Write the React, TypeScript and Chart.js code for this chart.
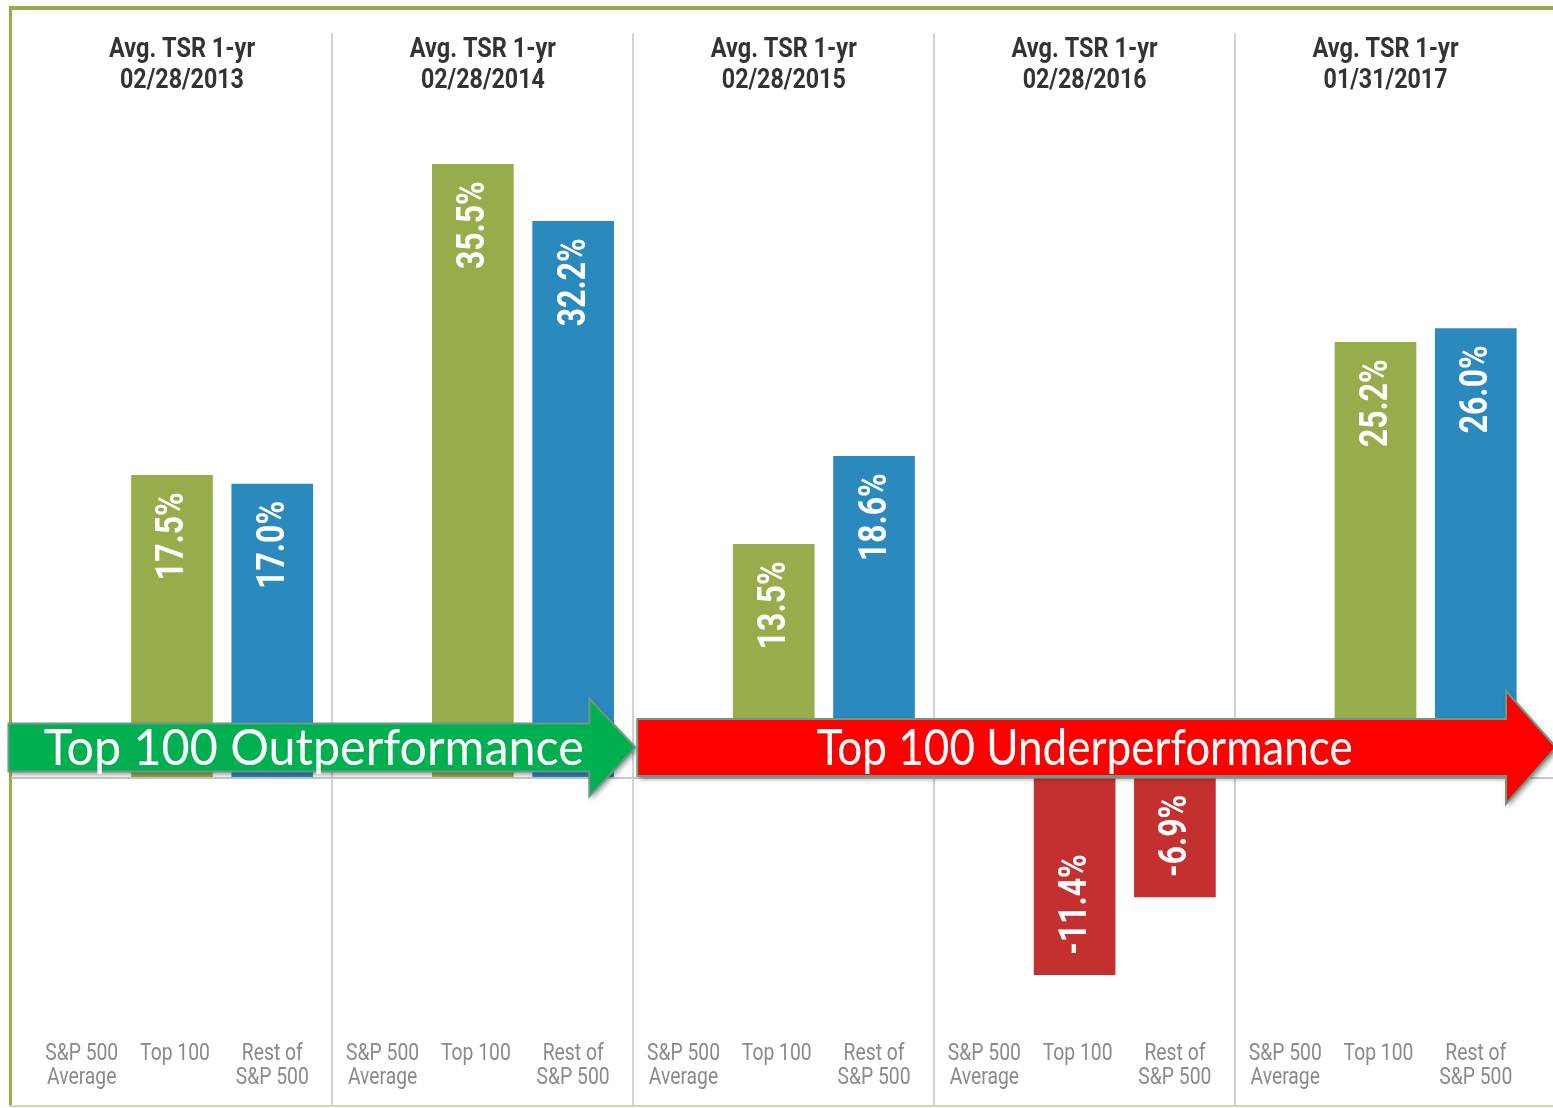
import { useEffect, useRef } from 'react';
import { Chart, registerables } from 'chart.js';

Chart.register(...registerables);

// ---------- data ----------
const periods = ['02/28/2013', '02/28/2014', '02/28/2015', '02/28/2016', '01/31/2017'];
const headerTitle = 'Avg. TSR 1-yr';
const categories: string[][] = [['S&P 500', 'Average'], ['Top 100'], ['Rest of', 'S&P 500']];
const sp500Average: (number | null)[] = [null, null, null, null, null];
const top100: number[] = [17.5, 35.5, 13.5, -11.4, 25.2];
const restOfSP500: number[] = [17.0, 32.2, 18.6, -6.9, 26.0];
const arrowLabels = ['Top 100 Outperformance', 'Top 100 Underperformance'];

// ---------- style ----------
const W = 1553;
const H = 1108;
const GREEN = '#97AD4B';
const BLUE = '#2A8ABD';
const RED = '#C4302F';
const PER = categories.length;
const labelNudge = [0.1, 0.03, 0];

const toPoints = (vals: (number | null)[], k: number) =>
  vals.map((v, p) => ({ x: p * PER + k, y: v }));

const separators = periods.slice(1).map((_, i) => (i + 1) * PER - 0.4);

const arrows = [
  { label: arrowLabels[0], from: -0.63, to: 5.62, fill: '#00B050', bodyHalf: 24, headHalf: 49, headLen: 46, textWidth: 540 },
  { label: arrowLabels[1], from: 5.64, to: 14.8, fill: '#FF0000', bodyHalf: 28.5, headHalf: 56.5, headLen: 50, textWidth: 536 },
];

function condensedText(ctx: CanvasRenderingContext2D, text: string, x: number, y: number, sx: number) {
  ctx.save();
  ctx.translate(x, y);
  ctx.scale(sx, 1);
  ctx.fillText(text, 0, 0);
  ctx.restore();
}

const decorPlugin = {
  id: 'decor',
  beforeDraw(chart: any) {
    const ctx: CanvasRenderingContext2D = chart.ctx;
    ctx.save();
    ctx.fillStyle = '#ffffff';
    ctx.fillRect(0, 0, W, H);
    ctx.fillStyle = GREEN;
    ctx.fillRect(9, 6, W - 9, 4);
    ctx.fillRect(9, 6, 3, 1101);
    ctx.fillStyle = '#cdd8b8';
    ctx.fillRect(9, 1105, W - 9, 2);
    ctx.restore();
  },
  afterDatasetsDraw(chart: any) {
    const ctx: CanvasRenderingContext2D = chart.ctx;
    const xs = chart.scales.x;
    const ys = chart.scales.y;
    const area = chart.chartArea;

    // value labels inside bars
    ctx.save();
    ctx.fillStyle = '#ffffff';
    ctx.font = 'bold 38px Roboto';
    ctx.textBaseline = 'middle';
    chart.data.datasets.forEach((ds: any, di: number) => {
      const meta = chart.getDatasetMeta(di);
      meta.data.forEach((bar: any, i: number) => {
        const v = ds.data[i].y;
        if (v === null || v === undefined) return;
        const txt = v.toFixed(1) + '%';
        ctx.save();
        if (v >= 0) {
          ctx.translate(bar.x, bar.y + 17);
          ctx.rotate(-Math.PI / 2);
          ctx.scale(0.84, 1);
          ctx.textAlign = 'right';
        } else {
          ctx.translate(bar.x, bar.y - 20);
          ctx.rotate(-Math.PI / 2);
          ctx.scale(0.84, 1);
          ctx.textAlign = 'left';
        }
        ctx.fillText(txt, 0, 2);
        ctx.restore();
      });
    });
    ctx.restore();

    // panel headers
    ctx.save();
    ctx.fillStyle = '#333333';
    ctx.font = 'bold 28px Roboto';
    ctx.textAlign = 'center';
    ctx.textBaseline = 'alphabetic';
    periods.forEach((p, i) => {
      const cx = xs.getPixelForValue(i * PER + 1.1);
      condensedText(ctx, headerTitle, cx, area.top + 24, 0.84);
      condensedText(ctx, p, cx, area.top + 55, 0.83);
    });
    ctx.restore();

    // category labels
    ctx.save();
    ctx.fillStyle = '#8a8a8a';
    ctx.font = '23px Roboto';
    ctx.textAlign = 'center';
    ctx.textBaseline = 'alphabetic';
    periods.forEach((_, p) => {
      categories.forEach((lines, k) => {
        const cx = xs.getPixelForValue(p * PER + k + labelNudge[k]);
        lines.forEach((ln, li) => {
          condensedText(ctx, ln, cx, area.bottom - 46 + li * 24, 0.84);
        });
      });
    });
    ctx.restore();

    // arrows
    arrows.forEach((a) => {
      const x0 = xs.getPixelForValue(a.from);
      const x1 = xs.getPixelForValue(a.to);
      const cy = ys.getPixelForValue(1.75);
      const hb = x1 - a.headLen;
      ctx.save();
      ctx.beginPath();
      ctx.moveTo(x0, cy - a.bodyHalf);
      ctx.lineTo(hb, cy - a.bodyHalf);
      ctx.lineTo(hb, cy - a.headHalf);
      ctx.lineTo(x1, cy);
      ctx.lineTo(hb, cy + a.headHalf);
      ctx.lineTo(hb, cy + a.bodyHalf);
      ctx.lineTo(x0, cy + a.bodyHalf);
      ctx.closePath();
      ctx.shadowColor = 'rgba(0,0,0,0.4)';
      ctx.shadowBlur = 5;
      ctx.shadowOffsetX = 2;
      ctx.shadowOffsetY = 3;
      ctx.fillStyle = a.fill;
      ctx.fill();
      ctx.shadowColor = 'transparent';
      ctx.lineWidth = 2;
      ctx.strokeStyle = '#6A9A86';
      ctx.stroke();
      ctx.restore();

      ctx.save();
      ctx.fillStyle = '#ffffff';
      ctx.font = '50px Lato';
      ctx.textAlign = 'center';
      ctx.textBaseline = 'alphabetic';
      const m = ctx.measureText(a.label).width;
      const cx = x0 + (x1 - x0) * 0.487;
      condensedText(ctx, a.label, cx, cy + 18, a.textWidth / m);
      ctx.restore();
    });
  },
};

export default function App() {
  const ref = useRef<HTMLCanvasElement | null>(null);
  useEffect(() => {
    if (!ref.current) return;
    const barColor = (base: string) => (c: any) => {
      const v = c.raw && c.raw.y;
      return v !== null && v < 0 ? RED : base;
    };
    const chart = new Chart(ref.current, {
      type: 'bar',
      data: {
        datasets: [
          { label: 'S&P 500 Average', data: toPoints(sp500Average, 0) as any, backgroundColor: '#8c8c8c', grouped: false, barThickness: 81 } as any,
          { label: 'Top 100', data: toPoints(top100, 1) as any, backgroundColor: barColor(GREEN), grouped: false, barThickness: 81 } as any,
          { label: 'Rest of S&P 500', data: toPoints(restOfSP500, 2) as any, backgroundColor: barColor(BLUE), grouped: false, barThickness: 81 } as any,
        ],
      },
      options: {
        responsive: false,
        animation: false,
        devicePixelRatio: 1,
        layout: { padding: { left: 11, top: 33, right: 0, bottom: 2 } },
        plugins: { legend: { display: false }, tooltip: { enabled: false } },
        scales: {
          x: {
            type: 'linear',
            offset: false,
            min: -0.605,
            max: 14.77,
            afterBuildTicks: (axis: any) => {
              axis.ticks = separators.map((v) => ({ value: v }));
            },
            ticks: { display: false },
            grid: { color: '#d2d2d2', lineWidth: 2, drawTicks: false, offset: false },
            border: { display: false },
          },
          y: {
            type: 'linear',
            min: -19,
            max: 43.1,
            afterBuildTicks: (axis: any) => {
              axis.ticks = [{ value: 0 }];
            },
            ticks: { display: false },
            grid: { color: '#c8c8c8', lineWidth: 2, drawTicks: false },
            border: { display: false },
          },
        },
      },
      plugins: [decorPlugin],
    } as any);
    return () => chart.destroy();
  }, []);
  return (
    <div style={{ position: 'absolute', left: 0, top: 0, width: W, height: H }}>
      <canvas ref={ref} width={W} height={H} style={{ display: 'block' }} />
    </div>
  );
}
